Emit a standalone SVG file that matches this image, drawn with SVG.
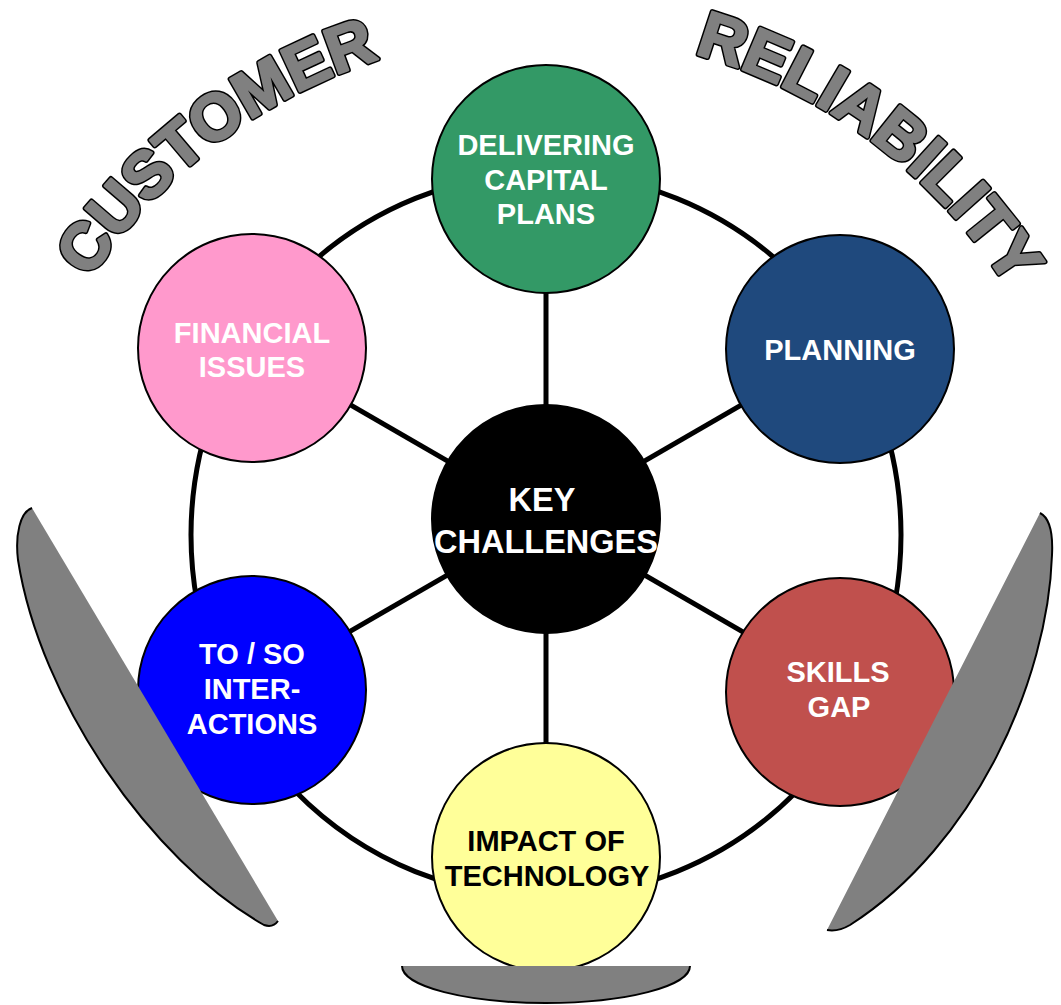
<svg xmlns="http://www.w3.org/2000/svg" width="1061" height="1005" viewBox="0 0 1061 1005">
<style>
.node{stroke:#000;stroke-width:2}
.lbl{font-family:"Liberation Sans",Arial,sans-serif;font-weight:bold;font-size:29px;fill:#fff;text-anchor:middle}
.ctr{font-size:32.5px}
.dark{fill:#000}
.conn{stroke:#000;stroke-width:5;fill:none}
.blade{fill:#808080;stroke:none}
.edge{fill:none;stroke:#000;stroke-width:2}
.arch{font-family:"Liberation Sans",Arial,sans-serif;font-weight:bold;font-size:65px;text-anchor:middle;stroke-linejoin:round}
.archout{fill:#000;stroke:#000;stroke-width:5.5}
.archin{fill:#808080;stroke:#808080;stroke-width:2.5}
</style>
<defs>
<path id="arc" d="M0,579 A546,546 0 0 1 1092,579"/>
</defs>
<rect width="1061" height="1005" fill="#fff"/>
<g id="connectors">
<ellipse class="conn" cx="546" cy="535" rx="355" ry="362"/>
<line class="conn" x1="546" y1="518" x2="546" y2="178"/>
<line class="conn" x1="546" y1="518" x2="840" y2="348"/>
<line class="conn" x1="546" y1="518" x2="840" y2="688"/>
<line class="conn" x1="546" y1="518" x2="546" y2="858"/>
<line class="conn" x1="546" y1="518" x2="252" y2="688"/>
<line class="conn" x1="546" y1="518" x2="252" y2="348"/>
</g>
<g id="n-delivering">
<circle class="node" cx="546" cy="179" r="114" fill="#339966"/>
<text class="lbl" x="546" y="155">DELIVERING</text>
<text class="lbl" x="546" y="190">CAPITAL</text>
<text class="lbl" x="546" y="224">PLANS</text>
</g>
<g id="n-planning">
<circle class="node" cx="840" cy="349" r="114" fill="#1F497D"/>
<text class="lbl" x="840" y="360">PLANNING</text>
</g>
<g id="n-skills">
<circle class="node" cx="840" cy="692" r="114" fill="#C0504D"/>
<text class="lbl" x="838" y="682">SKILLS</text>
<text class="lbl" x="839" y="717">GAP</text>
</g>
<g id="n-impact">
<circle class="node" cx="546" cy="857" r="114" fill="#FFFF99"/>
<text class="lbl dark" x="546" y="851">IMPACT OF</text>
<text class="lbl dark" x="547" y="886">TECHNOLOGY</text>
</g>
<g id="n-toso">
<circle class="node" cx="252" cy="690" r="114" fill="#0000FF"/>
<text class="lbl" x="252" y="664">TO / SO</text>
<text class="lbl" x="252" y="699">INTER-</text>
<text class="lbl" x="252" y="734">ACTIONS</text>
</g>
<g id="n-financial">
<circle class="node" cx="252" cy="348" r="114" fill="#FF99CC"/>
<text class="lbl" x="252" y="343">FINANCIAL</text>
<text class="lbl" x="252" y="377">ISSUES</text>
</g>
<g id="n-key">
<circle class="node" cx="546" cy="519" r="114" fill="#000"/>
<text class="lbl ctr" x="542" y="511">KEY</text>
<text class="lbl ctr" x="546" y="553">CHALLENGES</text>
</g>
<g id="blade-left">
<path class="blade" d="M32,508 L278,921 Q273,928 264,925 C150,860 40,700 18,560 C15,535 20,512 32,508 Z"/>
<path class="edge" d="M278,921 Q273,928 264,925 C150,860 40,700 18,560 C15,535 20,512 32,508"/>
</g>
<g id="blade-right">
<path class="blade" d="M1040,513 C1050,518 1053,535 1052,555 C1048,680 975,845 850,925 Q838,932 827,930 Z"/>
<path class="edge" d="M1040,513 C1050,518 1053,535 1052,555 C1048,680 975,845 850,925 Q838,932 827,930"/>
</g>
<g id="blade-bottom">
<path class="blade" d="M402,966 H690 A144,37 0 0 1 402,966 Z"/>
<path class="edge" d="M690,966 A144,37 0 0 1 402,966"/>
</g>
<g id="arch-text">
<text class="arch archout"><textPath href="#arc" startOffset="503">CUSTOMER</textPath></text>
<text class="arch archin"><textPath href="#arc" startOffset="503">CUSTOMER</textPath></text>
<text class="arch archout"><textPath href="#arc" startOffset="1208">RELIABILITY</textPath></text>
<text class="arch archin"><textPath href="#arc" startOffset="1208">RELIABILITY</textPath></text>
</g>
</svg>
